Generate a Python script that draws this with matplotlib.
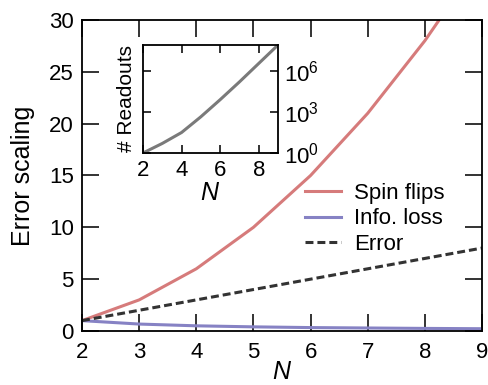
import numpy as np
import matplotlib
matplotlib.use("Agg")
import matplotlib.pyplot as plt

plt.rcParams['font.family'] = ['Liberation Sans', 'DejaVu Sans']
plt.rcParams['mathtext.fontset'] = 'custom'
plt.rcParams['mathtext.rm'] = 'Liberation Sans'
plt.rcParams['mathtext.it'] = 'Liberation Sans:italic'

# data
n_values = [2, 3, 4, 5, 6, 7, 8, 9]
spin_flips = [1, 3, 6, 10, 15, 21, 28, 36]
info_loss = [1.0, 0.67, 0.5, 0.4, 0.33, 0.29, 0.25, 0.22]
error = [1, 2, 3, 4, 5, 6, 7, 8]
readouts_log10 = [0.0, 0.7, 1.5, 2.65, 3.9, 5.2, 6.55, 7.9]

RED = '#d67b7b'
BLUE = '#8682c4'
DARK = '#333333'
GRAY = '#7a7a7a'
TICK = '#111111'

fig = plt.figure(figsize=(4.89, 3.85), dpi=100)
ax = fig.add_axes([82 / 489, 1 - 331 / 385, 400 / 489, 311 / 385])

ax.plot(n_values, spin_flips, color=RED, lw=2.2, label='Spin flips')
ax.plot(n_values, info_loss, color=BLUE, lw=2.2, label='Info. loss')
ax.plot(n_values, error, color=DARK, lw=2.2, ls=(0, (2.6, 1.3)), label='Error')

ax.set_xlim(2, 9)
ax.set_ylim(0, 30)
ax.set_xticks(range(2, 10))
ax.set_yticks(range(0, 31, 5))
ax.tick_params(which='major', direction='in', length=12, width=1.2, color=TICK,
               labelsize=16, top=True, right=True)
ax.tick_params(axis='x', pad=8)
ax.tick_params(axis='y', pad=6)
for s in ax.spines.values():
    s.set_linewidth(1.3)
ax.set_xlabel('$N$', fontsize=18, labelpad=-2)
ax.set_ylabel('Error scaling', fontsize=18, labelpad=10)

ax.legend(loc='upper left', bbox_to_anchor=((305 - 82) / 400, (331 - 183) / 311),
          frameon=False, fontsize=16, handlelength=1.6, handletextpad=0.6,
          labelspacing=0.2, borderaxespad=0, borderpad=0)

# inset
ins = fig.add_axes([143 / 489, 1 - 153 / 385, 135 / 489, 108 / 385])
ins.plot(n_values, [10 ** v for v in readouts_log10], color=GRAY, lw=2.2)
ins.set_yscale('log')
ins.set_xlim(2, 9)
ins.set_ylim(1, 10 ** 7.9)
ins.set_xticks([2, 4, 6, 8])
ins.set_yticks([1, 1e3, 1e6])
ins.minorticks_off()
ins.yaxis.tick_right()
ins.tick_params(which='major', direction='in', length=6, width=1.2, color=TICK,
                labelsize=16, top=True, left=True, right=True,
                labelleft=False, labelright=True)
ins.tick_params(axis='x', pad=5)
ins.tick_params(axis='y', pad=4)
for s in ins.spines.values():
    s.set_linewidth(1.3)
ins.set_xlabel('$N$', fontsize=18, labelpad=0)
ins.set_ylabel('# Readouts', fontsize=15, labelpad=5)

fig.savefig('out.png', dpi=100)
